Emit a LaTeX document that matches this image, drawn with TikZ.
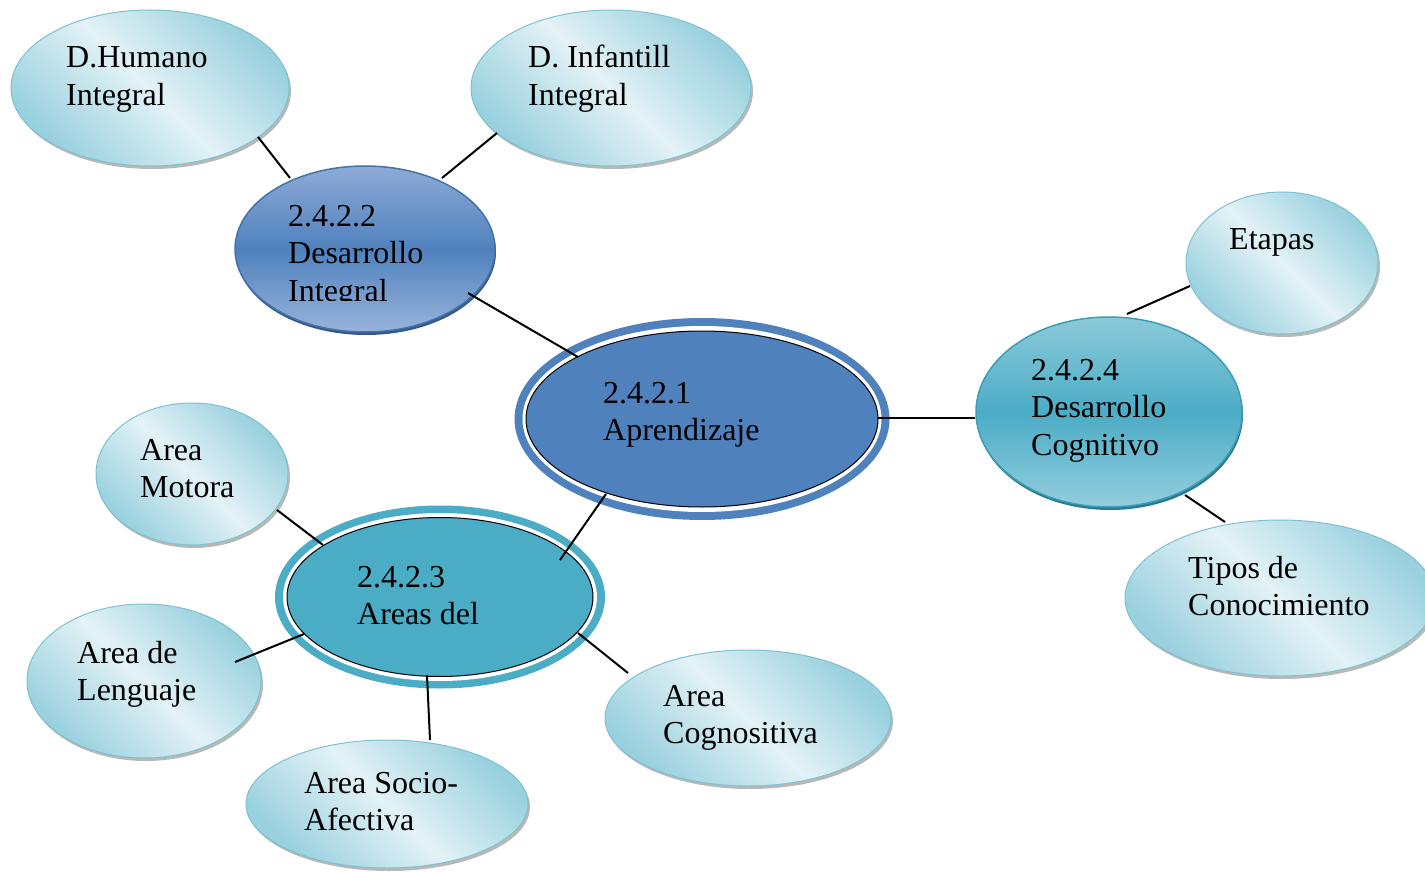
\documentclass[tikz,border=0pt]{standalone}
\usepackage{fontspec}
\setmainfont{Liberation Serif}
\usetikzlibrary{shapes.geometric,shadows}
\definecolor{lEdge}{HTML}{98D0DE}
\definecolor{lMid}{HTML}{E3F2F6}
\definecolor{lBorder}{HTML}{7EC1D1}
\definecolor{aBlue}{HTML}{4F81BD}
\definecolor{aTeal}{HTML}{4BACC6}
\definecolor{bTop}{HTML}{8EABD6}
\definecolor{bBot}{HTML}{98B3DA}
\definecolor{bBorder}{HTML}{4572A9}
\definecolor{bShadow}{HTML}{34598A}
\definecolor{tTop}{HTML}{8BCAD9}
\definecolor{tBot}{HTML}{93CEDD}
\definecolor{tBorder}{HTML}{3E9DB6}
\definecolor{tShadow}{HTML}{2C7A8E}
\newcommand\mylines[1]{\begin{tabular}[t]{@{}l@{}}#1\end{tabular}}
\begin{document}
\begin{tikzpicture}[x=1pt,y=-1pt,
  txt/.style={anchor=base west, inner sep=0pt, font=\fontsize{32}{37.5}\selectfont},
  light/.style={ellipse, inner sep=0pt, draw=lBorder, line width=1pt,
    left color=lEdge, right color=lEdge, middle color=lMid, shading angle=135,
    drop shadow={shadow xshift=2pt, shadow yshift=-3pt, fill=black, opacity=0.28}},
  darkb/.style={ellipse, inner sep=0pt, draw=bBorder, line width=1.5pt,
    top color=bTop, bottom color=bBot, middle color=aBlue,
    drop shadow={shadow xshift=1pt, shadow yshift=-3pt, fill=bShadow, opacity=1}},
  darkt/.style={ellipse, inner sep=0pt, draw=tBorder, line width=1.5pt,
    top color=tTop, bottom color=tBot, middle color=aTeal,
    drop shadow={shadow xshift=1pt, shadow yshift=-3pt, fill=tShadow, opacity=1}},
  ring/.style={ellipse, inner sep=0pt, fill=#1},
  core/.style={ellipse, inner sep=0pt, fill=#1, draw=black, line width=1pt},
  conn/.style={line width=2pt, black}]
\clip (0,0) rectangle (1425,872);
\fill[white] (0,0) rectangle (1425,872);

% light ellipses
\node[light, minimum width=278, minimum height=156] (hum) at (150,88) {};
\node[txt] (humt) at (66,68) {\mylines{D.Humano\\Integral}};
\node[light, minimum width=280, minimum height=156] (inf) at (611,88) {};
\node[txt] (inft) at (528,68) {\mylines{D. Infantill\\Integral}};
\node[light, minimum width=192, minimum height=142] (eta) at (1282,263) {};
\node[txt] (etat) at (1229,249) {Etapas};
\node[light, minimum width=310, minimum height=156] (tip) at (1280,598) {};
\node[txt] (tipt) at (1188,578) {\mylines{Tipos de\\Conocimiento}};
\node[light, minimum width=192, minimum height=142] (mot) at (192,474) {};
\node[txt] (mott) at (140,460) {\mylines{Area\\Motora}};
\node[light, minimum width=234, minimum height=154] (len) at (144,681) {};
\node[txt] (lent) at (77,663) {\mylines{Area de\\Lenguaje}};
\node[light, minimum width=282, minimum height=128] (soc) at (387,804) {};
\node[txt] (soct) at (304,793) {\mylines{Area Socio-\\Afectiva}};
\node[light, minimum width=286, minimum height=136] (cog) at (748,718) {};
\node[txt] (cogt) at (663,706) {\mylines{Area\\Cognositiva}};

% 2.4.2.2
\node[darkb, minimum width=260, minimum height=166] (di) at (365,249) {};
\begin{scope}
\clip (250,180) rectangle (490,300);
\node[txt] (dit) at (288,226) {\mylines{2.4.2.2\\Desarrollo\\Integral}};
\end{scope}

% 2.4.2.4
\node[darkt, minimum width=266, minimum height=190] (dc) at (1109,412) {};
\node[txt] (dct) at (1031,380) {\mylines{2.4.2.4\\Desarrollo\\Cognitivo}};

% 2.4.2.1
\node[ring=aBlue, minimum width=375, minimum height=202] (apr) at (702,419) {};
\node[ring=white, minimum width=359, minimum height=186] (aprw) at (apr.center) {};
\node[core=aBlue, minimum width=352, minimum height=176] (apri) at (apr.center) {};
\node[txt] (aprt) at (603,403) {\mylines{2.4.2.1\\Aprendizaje}};

% 2.4.2.3
\node[ring=aTeal, minimum width=330, minimum height=183] (are) at (440,597) {};
\node[ring=white, minimum width=314, minimum height=168] (arew) at (are.center) {};
\node[core=aTeal, minimum width=306, minimum height=159] (arei) at (are.center) {};
\node[txt] (aret) at (357,587) {\mylines{2.4.2.3\\Areas del}};

% connectors
\draw[conn] ([shift={(108,49)}]hum.center) -- ([shift={(-75,-71)}]di.center);
\draw[conn] ([shift={(-114,45)}]inf.center) -- ([shift={(77,-71)}]di.center);
\draw[conn] ([shift={(103,44)}]di.center) -- ([shift={(-124,-62)}]apr.center);
\draw[conn] ([shift={(176,-1)}]apr.center) -- ([shift={(-134,6)}]dc.center);
\draw[conn] ([shift={(-96,75)}]apr.center) -- ([shift={(120,-37)}]are.center);
\draw[conn] ([shift={(18,-98)}]dc.center) -- ([shift={(-92,23)}]eta.center);
\draw[conn] ([shift={(76,83)}]dc.center) -- ([shift={(-55,-76)}]tip.center);
\draw[conn] ([shift={(-117,-52)}]are.center) -- ([shift={(85,36)}]mot.center);
\draw[conn] ([shift={(-136,37)}]are.center) -- ([shift={(91,-19)}]len.center);
\draw[conn] ([shift={(-13,78)}]are.center) -- ([shift={(43,-64)}]soc.center);
\draw[conn] ([shift={(138,36)}]are.center) -- ([shift={(-120,-45)}]cog.center);
\end{tikzpicture}
\end{document}
